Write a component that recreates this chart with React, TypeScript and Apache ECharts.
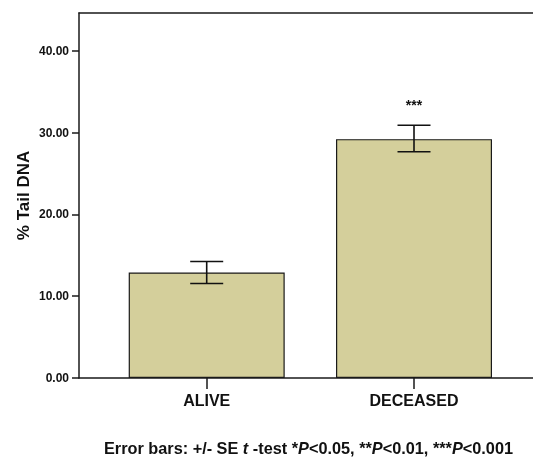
import React, { useEffect, useRef } from "react";
import * as echarts from "echarts";

const categories = ["ALIVE", "DECEASED"];
const means = [12.9, 29.2];
const upper = [14.25, 30.9];
const lower = [11.55, 27.65];
const significance = ["", "***"];
const yTicks = [0, 10, 20, 30, 40];

const FONT = "'Liberation Sans', Arial, sans-serif";

export default function App() {
  const ref = useRef<HTMLDivElement>(null);
  useEffect(() => {
    if (!ref.current) return;
    const chart = echarts.init(ref.current, null, { renderer: "svg" });
    const positions = categories.map((_, i) => i + 1);
    const xMin = 0.384;
    const xMax = 2.574;
    chart.setOption({
      animation: false,
      textStyle: { fontFamily: FONT },
      grid: { left: 79, top: 13, right: 0, bottom: 82 },
      xAxis: [
        {
          type: "value",
          min: xMin,
          max: xMax,
          splitLine: { show: false },
          axisLine: { show: true, lineStyle: { color: "#1a1a1a", width: 1.5 } },
          axisTick: {
            show: true,
            customValues: positions,
            length: 11,
            lineStyle: { color: "#1a1a1a", width: 1.5 },
          },
          axisLabel: {
            customValues: positions,
            formatter: (v: number) => categories[Math.round(v) - 1] ?? "",
            fontSize: 16,
            fontWeight: "bold",
            color: "#111",
            margin: 14,
            fontFamily: FONT,
          },
        },
        {
          type: "value",
          position: "top",
          min: xMin,
          max: xMax,
          splitLine: { show: false },
          axisLine: { show: true, onZero: false, lineStyle: { color: "#1a1a1a", width: 1.5 } },
          axisTick: { show: false },
          axisLabel: { show: false },
        },
      ],
      yAxis: {
        type: "value",
        min: 0,
        max: 44.62,
        name: "% Tail DNA",
        nameLocation: "middle",
        nameGap: 47,
        nameMoveOverlap: false,
        nameTextStyle: { fontSize: 17, fontWeight: "bold", color: "#111", fontFamily: FONT },
        splitLine: { show: false },
        axisLine: { show: true, lineStyle: { color: "#1a1a1a", width: 1.5 } },
        axisTick: {
          show: true,
          customValues: yTicks,
          length: 7,
          lineStyle: { color: "#1a1a1a", width: 1.5 },
        },
        axisLabel: {
          customValues: yTicks,
          formatter: (v: number) => v.toFixed(2),
          fontSize: 12,
          fontWeight: "bold",
          color: "#111",
          margin: 10,
          fontFamily: FONT,
        },
      },
      series: [
        {
          type: "bar",
          xAxisIndex: 0,
          barWidth: 156,
          data: positions.map((p, i) => [p, means[i]]),
          itemStyle: { color: "#d4cf9b", borderColor: "#1a1a1a", borderWidth: 1.2 },
        },
        {
          type: "custom",
          xAxisIndex: 0,
          data: positions.map((p, i) => [p, lower[i], upper[i], i]),
          renderItem: (params: any, api: any) => {
            const x = api.value(0);
            const lo = api.coord([x, api.value(1)]);
            const hi = api.coord([x, api.value(2)]);
            const idx = api.value(3);
            const half = 16.5;
            const style = { stroke: "#111", lineWidth: 1.6 };
            const children: any[] = [
              { type: "line", shape: { x1: lo[0], y1: lo[1], x2: hi[0], y2: hi[1] }, style },
              { type: "line", shape: { x1: hi[0] - half, y1: hi[1], x2: hi[0] + half, y2: hi[1] }, style },
              { type: "line", shape: { x1: lo[0] - half, y1: lo[1], x2: lo[0] + half, y2: lo[1] }, style },
            ];
            const sig = significance[idx];
            if (sig) {
              children.push({
                type: "text",
                x: hi[0],
                y: hi[1] - 20,
                style: {
                  text: sig,
                  fontSize: 14,
                  fontWeight: "bold",
                  fill: "#111",
                  align: "center",
                  verticalAlign: "middle",
                  fontFamily: FONT,
                },
              });
            }
            return { type: "group", children };
          },
          z: 5,
        },
      ],
      graphic: [
        {
          type: "text",
          x: 308.5,
          y: 448,
          style: {
            text:
              "{b|Error bars: +/- SE }{i|t}{b| -test *}{i|P}{b|<0.05, **}{i|P}{b|<0.01, ***}{i|P}{b|<0.001}",
            align: "center",
            verticalAlign: "middle",
            rich: {
              b: { fontSize: 16.3, fontWeight: "bold", fill: "#111", fontFamily: FONT },
              i: { fontSize: 16.3, fontWeight: "bold", fontStyle: "italic", fill: "#111", fontFamily: FONT },
            },
          },
        },
      ],
    });
    return () => chart.dispose();
  }, []);
  return (
    <div
      ref={ref}
      style={{ position: "fixed", left: 0, top: 0, width: 533, height: 460 }}
    />
  );
}
